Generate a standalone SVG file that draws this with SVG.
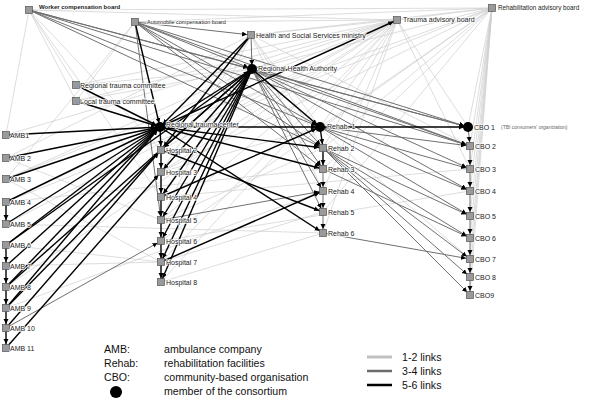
<svg xmlns="http://www.w3.org/2000/svg" width="591" height="400" viewBox="0 0 591 400">
<style>
.e1{stroke:#cfcfcf;stroke-width:0.7;fill:none}
.e2{stroke:#707070;stroke-width:1;fill:none;marker-end:url(#ah)}
.e3{stroke:#000;stroke-width:1.4;fill:none;marker-end:url(#ah)}
.sq{fill:#9a9a9a;stroke:#555;stroke-width:0.7}
.dot{fill:#000}
.l{font-family:"Liberation Sans",Arial,sans-serif;font-size:7px;fill:#1a1a1a;paint-order:stroke;stroke:#fff;stroke-width:1.5px;stroke-linejoin:round}
.lg{font-family:"Liberation Sans",Arial,sans-serif;font-size:10.6px;fill:#111}
</style>
<defs>
<marker id="ah" markerUnits="userSpaceOnUse" markerWidth="10" markerHeight="6" refX="9" refY="2.5" orient="auto">
<path d="M0,0 L5,2.5 L0,5 z" fill="#000"/>
</marker>
</defs>
<rect width="591" height="400" fill="#fff"/>
<g id="connectors">
<line class="e1" x1="29" y1="10" x2="6" y2="135"/>
<line class="e1" x1="29" y1="10" x2="76" y2="85"/>
<line class="e1" x1="29" y1="10" x2="76" y2="101"/>
<line class="e1" x1="29" y1="10" x2="161" y2="150"/>
<line class="e1" x1="29" y1="10" x2="161" y2="197"/>
<line class="e1" x1="29" y1="10" x2="492" y2="8"/>
<line class="e1" x1="29" y1="10" x2="397" y2="20"/>
<line class="e1" x1="135" y1="22" x2="76" y2="101"/>
<line class="e1" x1="135" y1="22" x2="6" y2="179"/>
<line class="e1" x1="135" y1="22" x2="397" y2="20"/>
<line class="e1" x1="135" y1="22" x2="492" y2="8"/>
<line class="e1" x1="397" y1="20" x2="6" y2="135"/>
<line class="e1" x1="397" y1="20" x2="6" y2="179"/>
<line class="e1" x1="397" y1="20" x2="6" y2="224"/>
<line class="e1" x1="397" y1="20" x2="6" y2="287"/>
<line class="e1" x1="397" y1="20" x2="161" y2="150"/>
<line class="e1" x1="397" y1="20" x2="161" y2="172"/>
<line class="e1" x1="397" y1="20" x2="161" y2="220"/>
<line class="e1" x1="397" y1="20" x2="161" y2="262"/>
<line class="e1" x1="397" y1="20" x2="161" y2="282"/>
<line class="e1" x1="397" y1="20" x2="76" y2="85"/>
<line class="e1" x1="397" y1="20" x2="76" y2="101"/>
<line class="e1" x1="397" y1="20" x2="323" y2="148"/>
<line class="e1" x1="397" y1="20" x2="323" y2="191"/>
<line class="e1" x1="397" y1="20" x2="323" y2="233"/>
<line class="e1" x1="397" y1="20" x2="468" y2="127"/>
<line class="e1" x1="397" y1="20" x2="470" y2="169"/>
<line class="e1" x1="397" y1="20" x2="251" y2="35"/>
<line class="e1" x1="397" y1="20" x2="252" y2="69"/>
<line class="e1" x1="397" y1="20" x2="320" y2="127"/>
<line class="e1" x1="492" y1="8" x2="468" y2="127"/>
<line class="e1" x1="492" y1="8" x2="470" y2="146"/>
<line class="e1" x1="492" y1="8" x2="470" y2="169"/>
<line class="e1" x1="492" y1="8" x2="470" y2="191"/>
<line class="e1" x1="492" y1="8" x2="470" y2="216"/>
<line class="e1" x1="492" y1="8" x2="470" y2="238"/>
<line class="e1" x1="492" y1="8" x2="470" y2="259"/>
<line class="e1" x1="492" y1="8" x2="470" y2="277"/>
<line class="e1" x1="492" y1="8" x2="470" y2="295"/>
<line class="e1" x1="492" y1="8" x2="320" y2="127"/>
<line class="e1" x1="492" y1="8" x2="323" y2="148"/>
<line class="e1" x1="492" y1="8" x2="323" y2="169"/>
<line class="e1" x1="492" y1="8" x2="323" y2="212"/>
<line class="e1" x1="492" y1="8" x2="252" y2="69"/>
<line class="e1" x1="492" y1="8" x2="251" y2="35"/>
<line class="e1" x1="492" y1="8" x2="397" y2="20"/>
<line class="e1" x1="492" y1="8" x2="161" y2="172"/>
<line class="e1" x1="492" y1="8" x2="161" y2="241"/>
<line class="e1" x1="492" y1="8" x2="160" y2="127"/>
<line class="e1" x1="492" y1="8" x2="6" y2="202"/>
<line class="e1" x1="251" y1="35" x2="320" y2="127"/>
<line class="e1" x1="251" y1="35" x2="323" y2="148"/>
<line class="e1" x1="251" y1="35" x2="323" y2="191"/>
<line class="e1" x1="251" y1="35" x2="470" y2="146"/>
<line class="e1" x1="251" y1="35" x2="161" y2="172"/>
<line class="e1" x1="251" y1="35" x2="161" y2="220"/>
<line class="e1" x1="251" y1="35" x2="6" y2="158"/>
<line class="e1" x1="252" y1="69" x2="470" y2="259"/>
<line class="e1" x1="252" y1="69" x2="6" y2="179"/>
<line class="e1" x1="76" y1="85" x2="252" y2="69"/>
<line class="e1" x1="76" y1="101" x2="252" y2="69"/>
<line class="e1" x1="6" y1="179" x2="161" y2="262"/>
<line class="e1" x1="6" y1="224" x2="323" y2="233"/>
<line class="e1" x1="6" y1="245" x2="161" y2="262"/>
<line class="e1" x1="6" y1="266" x2="161" y2="262"/>
<line class="e1" x1="6" y1="308" x2="323" y2="191"/>
<line class="e1" x1="6" y1="202" x2="323" y2="169"/>
<line class="e1" x1="6" y1="158" x2="161" y2="220"/>
<line class="e1" x1="161" y1="282" x2="323" y2="233"/>
<line class="e1" x1="161" y1="262" x2="323" y2="212"/>
<line class="e1" x1="161" y1="220" x2="323" y2="148"/>
<line class="e1" x1="161" y1="172" x2="320" y2="127"/>
<line class="e1" x1="161" y1="241" x2="470" y2="191"/>
<line class="e1" x1="161" y1="197" x2="470" y2="169"/>
<line class="e2" x1="29" y1="10" x2="252" y2="69"/>
<line class="e2" x1="29" y1="10" x2="320" y2="127"/>
<line class="e2" x1="29" y1="10" x2="468" y2="127"/>
<line class="e2" x1="29" y1="10" x2="323" y2="148"/>
<line class="e2" x1="29" y1="10" x2="470" y2="146"/>
<line class="e2" x1="135" y1="22" x2="252" y2="69"/>
<line class="e2" x1="135" y1="22" x2="320" y2="127"/>
<line class="e2" x1="135" y1="22" x2="468" y2="127"/>
<line class="e2" x1="135" y1="22" x2="323" y2="148"/>
<line class="e2" x1="135" y1="22" x2="323" y2="169"/>
<line class="e2" x1="135" y1="22" x2="470" y2="146"/>
<line class="e2" x1="135" y1="22" x2="161" y2="220"/>
<line class="e2" x1="135" y1="22" x2="251" y2="35"/>
<line class="e2" x1="252" y1="69" x2="468" y2="127"/>
<line class="e2" x1="252" y1="69" x2="470" y2="146"/>
<line class="e2" x1="252" y1="69" x2="470" y2="169"/>
<line class="e2" x1="252" y1="69" x2="470" y2="191"/>
<line class="e2" x1="252" y1="69" x2="323" y2="148"/>
<line class="e2" x1="252" y1="69" x2="323" y2="169"/>
<line class="e2" x1="252" y1="69" x2="323" y2="191"/>
<line class="e2" x1="252" y1="69" x2="323" y2="212"/>
<line class="e2" x1="251" y1="35" x2="252" y2="69"/>
<line class="e2" x1="320" y1="127" x2="470" y2="146"/>
<line class="e2" x1="320" y1="127" x2="470" y2="169"/>
<line class="e2" x1="320" y1="127" x2="470" y2="191"/>
<line class="e2" x1="320" y1="127" x2="470" y2="216"/>
<line class="e2" x1="323" y1="148" x2="470" y2="216"/>
<line class="e2" x1="323" y1="148" x2="470" y2="238"/>
<line class="e2" x1="323" y1="148" x2="470" y2="259"/>
<line class="e2" x1="323" y1="148" x2="470" y2="277"/>
<line class="e2" x1="323" y1="148" x2="470" y2="295"/>
<line class="e2" x1="323" y1="169" x2="470" y2="238"/>
<line class="e2" x1="323" y1="233" x2="470" y2="259"/>
<line class="e2" x1="468" y1="127" x2="470" y2="146"/>
<line class="e2" x1="470" y1="146" x2="470" y2="169"/>
<line class="e2" x1="470" y1="169" x2="470" y2="191"/>
<line class="e2" x1="470" y1="191" x2="470" y2="216"/>
<line class="e2" x1="470" y1="216" x2="470" y2="238"/>
<line class="e2" x1="470" y1="238" x2="470" y2="259"/>
<line class="e2" x1="470" y1="259" x2="470" y2="277"/>
<line class="e2" x1="470" y1="277" x2="470" y2="295"/>
<line class="e2" x1="323" y1="169" x2="323" y2="191"/>
<line class="e2" x1="323" y1="191" x2="323" y2="212"/>
<line class="e2" x1="323" y1="212" x2="323" y2="233"/>
<line class="e2" x1="6" y1="328" x2="161" y2="241"/>
<line class="e2" x1="161" y1="220" x2="323" y2="191"/>
<line class="e3" x1="6" y1="135" x2="160" y2="127"/>
<line class="e3" x1="6" y1="158" x2="160" y2="127"/>
<line class="e3" x1="6" y1="179" x2="160" y2="127"/>
<line class="e3" x1="6" y1="202" x2="160" y2="127"/>
<line class="e3" x1="6" y1="224" x2="160" y2="127"/>
<line class="e3" x1="6" y1="245" x2="160" y2="127"/>
<line class="e3" x1="6" y1="266" x2="160" y2="127"/>
<line class="e3" x1="6" y1="287" x2="160" y2="127"/>
<line class="e3" x1="6" y1="308" x2="160" y2="127"/>
<line class="e3" x1="6" y1="328" x2="161" y2="150"/>
<line class="e3" x1="6" y1="348" x2="161" y2="172"/>
<line class="e3" x1="6" y1="245" x2="252" y2="69"/>
<line class="e3" x1="6" y1="287" x2="252" y2="69"/>
<line class="e3" x1="6" y1="308" x2="161" y2="150"/>
<line class="e3" x1="6" y1="202" x2="6" y2="224"/>
<line class="e3" x1="6" y1="245" x2="6" y2="266"/>
<line class="e3" x1="6" y1="266" x2="6" y2="287"/>
<line class="e3" x1="6" y1="287" x2="6" y2="308"/>
<line class="e3" x1="6" y1="308" x2="6" y2="328"/>
<line class="e3" x1="6" y1="328" x2="6" y2="348"/>
<line class="e3" x1="160" y1="127" x2="161" y2="150"/>
<line class="e3" x1="161" y1="150" x2="161" y2="172"/>
<line class="e3" x1="161" y1="172" x2="161" y2="197"/>
<line class="e3" x1="161" y1="197" x2="161" y2="220"/>
<line class="e3" x1="161" y1="220" x2="161" y2="241"/>
<line class="e3" x1="161" y1="241" x2="161" y2="262"/>
<line class="e3" x1="161" y1="262" x2="161" y2="282"/>
<line class="e3" x1="252" y1="69" x2="160" y2="127"/>
<line class="e3" x1="252" y1="69" x2="161" y2="150"/>
<line class="e3" x1="252" y1="69" x2="161" y2="172"/>
<line class="e3" x1="252" y1="69" x2="161" y2="197"/>
<line class="e3" x1="252" y1="69" x2="161" y2="220"/>
<line class="e3" x1="252" y1="69" x2="161" y2="241"/>
<line class="e3" x1="252" y1="69" x2="161" y2="262"/>
<line class="e3" x1="252" y1="69" x2="161" y2="282"/>
<line class="e3" x1="251" y1="35" x2="161" y2="150"/>
<line class="e3" x1="251" y1="35" x2="160" y2="127"/>
<line class="e3" x1="135" y1="22" x2="160" y2="127"/>
<line class="e3" x1="76" y1="85" x2="160" y2="127"/>
<line class="e3" x1="76" y1="101" x2="160" y2="127"/>
<line class="e3" x1="160" y1="127" x2="397" y2="20"/>
<line class="e3" x1="160" y1="127" x2="320" y2="127"/>
<line class="e3" x1="320" y1="127" x2="468" y2="127"/>
<line class="e3" x1="160" y1="127" x2="323" y2="148"/>
<line class="e3" x1="160" y1="127" x2="323" y2="169"/>
<line class="e3" x1="161" y1="150" x2="323" y2="212"/>
<line class="e3" x1="160" y1="127" x2="323" y2="233"/>
<line class="e3" x1="161" y1="197" x2="320" y2="127"/>
<line class="e3" x1="161" y1="262" x2="323" y2="191"/>
<line class="e3" x1="252" y1="69" x2="320" y2="127"/>
<line class="e3" x1="320" y1="127" x2="323" y2="148"/>
<line class="e3" x1="323" y1="148" x2="323" y2="169"/>
</g>
<g id="n-wcb"><rect class="sq" x="25.5" y="6.5" width="7" height="7"/><text class="l" x="39" y="9" style="font-weight:bold;font-size:6px">Worker compensation board</text></g>
<g id="n-acb"><rect class="sq" x="131.5" y="18.5" width="7" height="7"/><text class="l" x="147" y="24" style="font-size:5.5px">Automobile compensation board</text></g>
<g id="n-hss"><rect class="sq" x="247.5" y="31.5" width="7" height="7"/><text class="l" x="256" y="38">Health and Social Services ministry</text></g>
<g id="n-rha"><circle class="dot" cx="252" cy="69" r="5"/><text class="l" x="258" y="71">Regional Health Authority</text></g>
<g id="n-tab"><rect class="sq" x="393.5" y="16.5" width="7" height="7"/><text class="l" x="403" y="22">Trauma advisory board</text></g>
<g id="n-rab"><rect class="sq" x="488.5" y="4.5" width="7" height="7"/><text class="l" x="498" y="10" style="font-size:6.3px">Rehabilitation advisory board</text></g>
<g id="n-rtcm"><rect class="sq" x="72.5" y="81.5" width="7" height="7"/><text class="l" x="80" y="88">Regional trauma committee</text></g>
<g id="n-ltc"><rect class="sq" x="72.5" y="97.5" width="7" height="7"/><text class="l" x="80" y="104">Local trauma committee</text></g>
<g id="n-rtc"><circle class="dot" cx="160" cy="127" r="5"/><text class="l" x="166" y="127">Regional trauma center</text></g>
<g id="n-r1"><circle class="dot" cx="320" cy="127" r="5"/><text class="l" x="327" y="129">Rehab. 1</text></g>
<g id="n-c1"><circle class="dot" cx="468" cy="127" r="5"/><text class="l" x="474" y="130">CBO 1</text><text class="l" x="501" y="129" style="font-size:5px;fill:#666">(TBI consumers' organization)</text></g>
<g id="n-a1"><rect class="sq" x="2.5" y="131.5" width="7" height="7"/><text class="l" x="10" y="138">AMB1</text></g>
<g id="n-a2"><rect class="sq" x="2.5" y="154.5" width="7" height="7"/><text class="l" x="10" y="161">AMB 2</text></g>
<g id="n-a3"><rect class="sq" x="2.5" y="175.5" width="7" height="7"/><text class="l" x="10" y="182">AMB 3</text></g>
<g id="n-a4"><rect class="sq" x="2.5" y="198.5" width="7" height="7"/><text class="l" x="10" y="205">AMB 4</text></g>
<g id="n-a5"><rect class="sq" x="2.5" y="220.5" width="7" height="7"/><text class="l" x="10" y="227">AMB 5</text></g>
<g id="n-a6"><rect class="sq" x="2.5" y="241.5" width="7" height="7"/><text class="l" x="10" y="248">AMB 6</text></g>
<g id="n-a7"><rect class="sq" x="2.5" y="262.5" width="7" height="7"/><text class="l" x="10" y="269">AMB 7</text></g>
<g id="n-a8"><rect class="sq" x="2.5" y="283.5" width="7" height="7"/><text class="l" x="10" y="290">AMB 8</text></g>
<g id="n-a9"><rect class="sq" x="2.5" y="304.5" width="7" height="7"/><text class="l" x="10" y="311">AMB 9</text></g>
<g id="n-a10"><rect class="sq" x="2.5" y="324.5" width="7" height="7"/><text class="l" x="10" y="331">AMB 10</text></g>
<g id="n-a11"><rect class="sq" x="2.5" y="344.5" width="7" height="7"/><text class="l" x="10" y="351">AMB 11</text></g>
<g id="n-h2"><rect class="sq" x="157.5" y="146.5" width="7" height="7"/><text class="l" x="166" y="153">Hospital 2</text></g>
<g id="n-h3"><rect class="sq" x="157.5" y="168.5" width="7" height="7"/><text class="l" x="166" y="175">Hospital 3</text></g>
<g id="n-h4"><rect class="sq" x="157.5" y="193.5" width="7" height="7"/><text class="l" x="166" y="200">Hospital 4</text></g>
<g id="n-h5"><rect class="sq" x="157.5" y="216.5" width="7" height="7"/><text class="l" x="166" y="223">Hospital 5</text></g>
<g id="n-h6"><rect class="sq" x="157.5" y="237.5" width="7" height="7"/><text class="l" x="166" y="244">Hospital 6</text></g>
<g id="n-h7"><rect class="sq" x="157.5" y="258.5" width="7" height="7"/><text class="l" x="166" y="265">Hospital 7</text></g>
<g id="n-h8"><rect class="sq" x="157.5" y="278.5" width="7" height="7"/><text class="l" x="166" y="285">Hospital 8</text></g>
<g id="n-r2"><rect class="sq" x="319.5" y="144.5" width="7" height="7"/><text class="l" x="328" y="151">Rehab 2</text></g>
<g id="n-r3"><rect class="sq" x="319.5" y="165.5" width="7" height="7"/><text class="l" x="328" y="172">Rehab 3</text></g>
<g id="n-r4"><rect class="sq" x="319.5" y="187.5" width="7" height="7"/><text class="l" x="328" y="194">Rehab 4</text></g>
<g id="n-r5"><rect class="sq" x="319.5" y="208.5" width="7" height="7"/><text class="l" x="328" y="215">Rehab 5</text></g>
<g id="n-r6"><rect class="sq" x="319.5" y="229.5" width="7" height="7"/><text class="l" x="328" y="236">Rehab 6</text></g>
<g id="n-c2"><rect class="sq" x="466.5" y="142.5" width="7" height="7"/><text class="l" x="475" y="149">CBO 2</text></g>
<g id="n-c3"><rect class="sq" x="466.5" y="165.5" width="7" height="7"/><text class="l" x="475" y="172">CBO 3</text></g>
<g id="n-c4"><rect class="sq" x="466.5" y="187.5" width="7" height="7"/><text class="l" x="475" y="194">CBO 4</text></g>
<g id="n-c5"><rect class="sq" x="466.5" y="212.5" width="7" height="7"/><text class="l" x="475" y="219">CBO 5</text></g>
<g id="n-c6"><rect class="sq" x="466.5" y="234.5" width="7" height="7"/><text class="l" x="475" y="241">CBO 6</text></g>
<g id="n-c7"><rect class="sq" x="466.5" y="255.5" width="7" height="7"/><text class="l" x="475" y="262">CBO 7</text></g>
<g id="n-c8"><rect class="sq" x="466.5" y="273.5" width="7" height="7"/><text class="l" x="475" y="280">CBO 8</text></g>
<g id="n-c9"><rect class="sq" x="466.5" y="291.5" width="7" height="7"/><text class="l" x="475" y="298">CBO9</text></g>
<g id="legend">
<text class="lg" x="104" y="353">AMB:</text>
<text class="lg" x="164" y="353">ambulance company</text>
<text class="lg" x="104" y="367">Rehab:</text>
<text class="lg" x="164" y="367">rehabilitation facilities</text>
<text class="lg" x="104" y="381">CBO:</text>
<text class="lg" x="164" y="381">community-based organisation</text>
<circle cx="116" cy="392" r="6" fill="#000"/>
<text class="lg" x="164" y="395">member of the consortium</text>
<line x1="367" y1="357" x2="392" y2="357" stroke="#c0c0c0" stroke-width="3"/>
<line x1="367" y1="371" x2="392" y2="371" stroke="#6c6c6c" stroke-width="2.5"/>
<line x1="367" y1="385" x2="392" y2="385" stroke="#000" stroke-width="2.5"/>
<text class="lg" x="402" y="361">1-2 links</text>
<text class="lg" x="402" y="375">3-4 links</text>
<text class="lg" x="402" y="389">5-6 links</text>
</g>
</svg>
